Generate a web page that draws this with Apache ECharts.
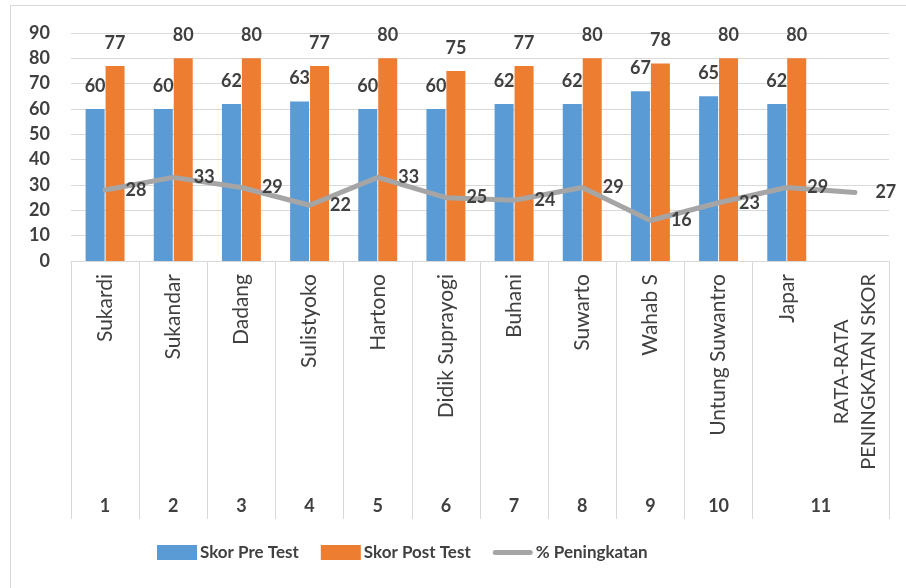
<!DOCTYPE html>
<html>
<head>
<meta charset="utf-8">
<script src="https://cdn.jsdelivr.net/npm/echarts@6/dist/echarts.min.js"></script>
<style>
  html, body { margin: 0; padding: 0; background: #ffffff; }
  #frame { position: absolute; left: 10px; top: 5px; width: 1000px; height: 700px;
           border-left: 1px solid #d9d9d9; border-top: 1px solid #d9d9d9; }
  #chart { position: absolute; left: 0; top: 0; width: 906px; height: 588px; }
</style>
</head>
<body>
<div id="frame"></div>
<div id="chart"></div>
<script>
const categories = ['Sukardi', 'Sukandar', 'Dadang', 'Sulistyoko', 'Hartono', 'Didik Suprayogi',
  'Buhani', 'Suwarto', 'Wahab S', 'Untung Suwantro', 'Japar', 'RATA-RATA\nPENINGKATAN SKOR'];
const groupNumbers = ['1', '2', '3', '4', '5', '6', '7', '8', '9', '10', '11'];
const preTest = [60, 60, 62, 63, 60, 60, 62, 62, 67, 65, 62, null];
const postTest = [77, 80, 80, 77, 80, 75, 77, 80, 78, 80, 80, null];
const peningkatan = [28, 33, 29, 22, 33, 25, 24, 29, 16, 23, 29, 27];
const yTicks = [0, 10, 20, 30, 40, 50, 60, 70, 80, 90];

const FONT = 'Lato';
const TXT = '#404040';
const GRID = '#d9d9d9';

const chart = echarts.init(document.getElementById('chart'));
const numLabel = {
  show: true, color: TXT, fontFamily: FONT, fontSize: 18, fontWeight: 'bold'
};
chart.setOption({
  animation: false,
  textStyle: { fontFamily: FONT },
  grid: { left: 71, right: 17, top: 33, bottom: 327, containLabel: false },
  legend: {
    left: 152, top: 539, itemWidth: 40, itemHeight: 15, itemGap: 22, symbolKeepAspect: true,
    textStyle: { color: TXT, fontFamily: FONT, fontSize: 17, fontWeight: 'bold', padding: [0, 0, 0, -2] },
    data: [
      { name: 'Skor Pre Test', icon: 'rect' },
      { name: 'Skor Post Test', icon: 'rect' },
      { name: '% Peningkatan',
        icon: 'path://M2.5,0 L37.5,0 A2.5,2.5 0 0 1 37.5,5 L2.5,5 A2.5,2.5 0 0 1 2.5,0 Z' }
    ]
  },
  xAxis: [
    {
      type: 'category', data: categories, position: 'bottom',
      axisLine: { show: true, lineStyle: { color: GRID, width: 1 } },
      axisTick: {
        show: true, length: 258, lineStyle: { color: GRID, width: 1 },
        interval: function (index) { return index !== 11; }
      },
      axisLabel: {
        interval: 0, rotate: 90, margin: 13, color: TXT, fontFamily: FONT, fontSize: 21,
        formatter: function (v) {
          if (v.indexOf('\n') >= 0) {
            return v.split('\n').map(function (s) { return '{c|' + s + '}'; }).join('\n');
          }
          return v;
        },
        rich: { c: { align: 'center', fontFamily: FONT, fontSize: 20, color: TXT, lineHeight: 27 } }
      },
      splitLine: { show: false }
    },
    {
      type: 'value', min: 0, max: 12, interval: 0.5, position: 'bottom', offset: 230,
      axisLine: { show: false }, axisTick: { show: false }, splitLine: { show: false },
      axisLabel: {
        margin: 6, color: TXT, fontFamily: FONT, fontSize: 18, fontWeight: 'bold',
        showMinLabel: true, showMaxLabel: true,
        formatter: function (v) {
          if (Math.abs(v - 11) < 1e-6) return groupNumbers[10];
          const k = v - 0.5;
          if (Math.abs(k - Math.round(k)) < 1e-6 && Math.round(k) < 10) return groupNumbers[Math.round(k)];
          return '';
        }
      }
    }
  ],
  yAxis: {
    type: 'value', min: yTicks[0], max: yTicks[yTicks.length - 1], interval: 10,
    axisLine: { show: false }, axisTick: { show: false },
    axisLabel: { margin: 21, color: TXT, fontFamily: FONT, fontSize: 18, fontWeight: 'bold' },
    splitLine: { lineStyle: { color: GRID, width: 1 } }
  },
  series: [
    {
      name: 'Skor Pre Test', type: 'bar', data: preTest, barWidth: 19, barGap: '5%',
      itemStyle: { color: '#5B9BD5' },
      label: Object.assign({ position: 'top', distance: 14 }, numLabel)
    },
    {
      name: 'Skor Post Test', type: 'bar', data: postTest, barWidth: 19,
      itemStyle: { color: '#ED7D31' },
      label: Object.assign({ position: 'top', distance: 14 }, numLabel)
    },
    {
      name: '% Peningkatan', type: 'line', data: peningkatan, symbol: 'circle', symbolSize: 1,
      showSymbol: true,
      lineStyle: { color: '#A5A5A5', width: 5, cap: 'round', join: 'round' },
      itemStyle: { color: '#A5A5A5' },
      label: Object.assign({ position: 'right', distance: 20 }, numLabel),
      z: 5
    }
  ]
});
</script>
</body>
</html>
